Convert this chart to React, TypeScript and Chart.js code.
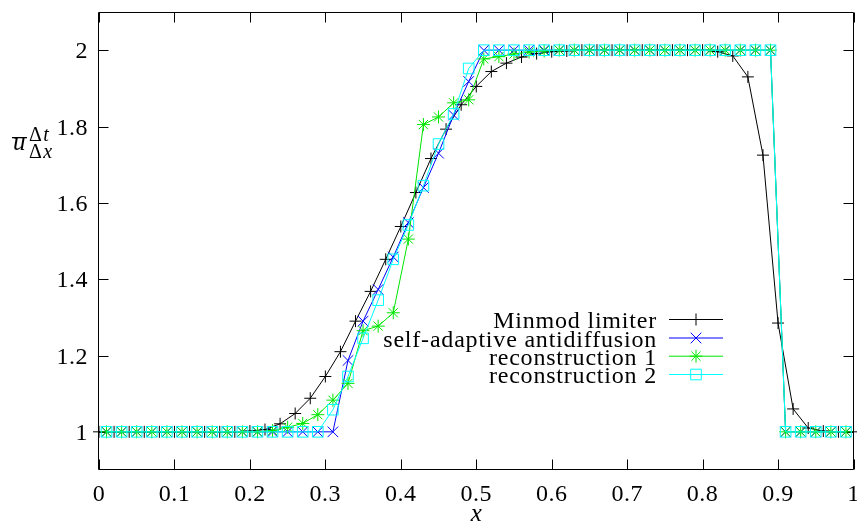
import React, { useEffect, useRef } from 'react';
import { Chart, registerables } from 'chart.js';

Chart.register(...registerables);

// cell centres (self-adaptive antidiffusion, reconstruction 1, reconstruction 2)
const xCells = [
  0.01, 0.03, 0.05, 0.07, 0.09, 0.11, 0.13, 0.15, 0.17, 0.19,
  0.21, 0.23, 0.25, 0.27, 0.29, 0.31, 0.33, 0.35, 0.37, 0.39,
  0.41, 0.43, 0.45, 0.47, 0.49, 0.51, 0.53, 0.55, 0.57, 0.59,
  0.61, 0.63, 0.65, 0.67, 0.69, 0.71, 0.73, 0.75, 0.77, 0.79,
  0.81, 0.83, 0.85, 0.87, 0.89, 0.91, 0.93, 0.95, 0.97, 0.99,
];

// grid nodes (Minmod limiter)
const xNodes = [
  0.0, 0.02, 0.04, 0.06, 0.08, 0.1, 0.12, 0.14, 0.16, 0.18,
  0.2, 0.22, 0.24, 0.26, 0.28, 0.3, 0.32, 0.34, 0.36, 0.38,
  0.4, 0.42, 0.44, 0.46, 0.48, 0.5, 0.52, 0.54, 0.56, 0.58,
  0.6, 0.62, 0.64, 0.66, 0.68, 0.7, 0.72, 0.74, 0.76, 0.78,
  0.8, 0.82, 0.84, 0.86, 0.88, 0.9, 0.92, 0.94, 0.96, 0.98, 1.0,
];

const minmodValues = [
  1, 1, 1, 1, 1, 1, 1, 1, 1, 1,
  1.002, 1.006, 1.021, 1.048, 1.088, 1.145, 1.21, 1.29, 1.368, 1.452,
  1.538, 1.627, 1.716, 1.793, 1.857, 1.905, 1.944, 1.966, 1.982, 1.991,
  1.996, 1.998, 2, 2, 2, 2, 2, 2, 2, 2,
  2, 1.996, 1.985, 1.93, 1.725, 1.285, 1.06, 1.01, 1.002, 1, 1,
];

const antidiffusionValues = [
  1, 1, 1, 1, 1, 1, 1, 1, 1, 1,
  1, 1, 1, 1, 1, 1, 1.187, 1.29, 1.373, 1.458,
  1.548, 1.64, 1.73, 1.83, 1.918, 2, 2, 2, 2, 2,
  2, 2, 2, 2, 2, 2, 2, 2, 2, 2,
  2, 2, 2, 2, 2, 1, 1, 1, 1, 1,
];

const reconstruction1Values = [
  1, 1, 1, 1, 1, 1, 1, 1, 1, 1,
  1, 1.003, 1.012, 1.022, 1.045, 1.083, 1.127, 1.265, 1.277, 1.312,
  1.505, 1.805, 1.825, 1.862, 1.87, 1.977, 1.983, 1.99, 1.995, 1.998,
  2, 2, 2, 2, 2, 2, 2, 2, 2, 2,
  2, 2, 2, 2, 2, 1, 1, 1, 1, 1,
];

const reconstruction2Values = [
  1, 1, 1, 1, 1, 1, 1, 1, 1, 1,
  1, 1, 1, 1, 1, 1.058, 1.145, 1.245, 1.345, 1.452,
  1.542, 1.645, 1.754, 1.833, 1.952, 2, 2, 2, 2, 2,
  2, 2, 2, 2, 2, 2, 2, 2, 2, 2,
  2, 2, 2, 2, 2, 1, 1, 1, 1, 1,
];

const seriesNames = [
  'Minmod limiter',
  'self-adaptive antidiffusion',
  'reconstruction 1',
  'reconstruction 2',
];

const xTicks = [0, 0.1, 0.2, 0.3, 0.4, 0.5, 0.6, 0.7, 0.8, 0.9, 1];
const xTickLabels = ['0', '0.1', '0.2', '0.3', '0.4', '0.5', '0.6', '0.7', '0.8', '0.9', '1'];
const yTicks = [1, 1.2, 1.4, 1.6, 1.8, 2];
const yTickLabels = ['1', '1.2', '1.4', '1.6', '1.8', '2'];

const SERIF = '"Liberation Serif", "Times New Roman", serif';

function zip(xs: number[], ys: number[]) {
  return xs.map((x, i) => ({ x, y: ys[i] }));
}

function drawMarker(ctx: CanvasRenderingContext2D, style: string, x: number, y: number, r: number) {
  const d = r * Math.SQRT1_2;
  ctx.beginPath();
  if (style === 'cross' || style === 'star') {
    ctx.moveTo(x - r, y);
    ctx.lineTo(x + r, y);
    ctx.moveTo(x, y - r);
    ctx.lineTo(x, y + r);
  }
  if (style === 'crossRot' || style === 'star') {
    ctx.moveTo(x - d, y - d);
    ctx.lineTo(x + d, y + d);
    ctx.moveTo(x - d, y + d);
    ctx.lineTo(x + d, y - d);
  }
  if (style === 'rect') {
    ctx.rect(x - d, y - d, 2 * d, 2 * d);
  }
  ctx.stroke();
}

const framePlugin = {
  id: 'gnuplotFrame',
  beforeDatasetsDraw(chart: any) {
    const { ctx, chartArea } = chart;
    const xs = chart.scales.x;
    const ys = chart.scales.y;
    const L = Math.round(chartArea.left) - 0.5;
    const R = Math.round(chartArea.right) - 0.5;
    const T = Math.round(chartArea.top) + 0.5;
    const B = Math.round(chartArea.bottom) - 0.5;
    const tl = 10;
    ctx.save();
    ctx.strokeStyle = '#000';
    ctx.lineWidth = 1;
    ctx.beginPath();
    ctx.rect(L, T, R - L, B - T);
    ctx.stroke();
    ctx.beginPath();
    xTicks.forEach((v) => {
      const px = Math.round(xs.getPixelForValue(v)) + 0.5;
      ctx.moveTo(px, B);
      ctx.lineTo(px, B - tl);
      ctx.moveTo(px, T);
      ctx.lineTo(px, T + tl);
    });
    yTicks.forEach((v) => {
      const py = Math.round(ys.getPixelForValue(v)) + 0.5;
      ctx.moveTo(L, py);
      ctx.lineTo(L + tl, py);
      ctx.moveTo(R, py);
      ctx.lineTo(R - tl, py);
    });
    ctx.stroke();

    ctx.fillStyle = '#000';
    ctx.font = `24px ${SERIF}`;
    (ctx as any).letterSpacing = '0.5px';
    ctx.textBaseline = 'alphabetic';
    ctx.textAlign = 'center';
    xTicks.forEach((v, i) => {
      ctx.fillText(xTickLabels[i], xs.getPixelForValue(v), 501);
    });
    ctx.textAlign = 'right';
    yTicks.forEach((v, i) => {
      ctx.fillText(yTickLabels[i], chartArea.left - 11, ys.getPixelForValue(v) + 8);
    });
    (ctx as any).letterSpacing = '0px';

    // x axis title
    ctx.textAlign = 'center';
    ctx.font = `italic 25px ${SERIF}`;
    ctx.fillText('x', (chartArea.left + chartArea.right) / 2, 521);

    // y axis title: overline u, superscript Δt, subscript Δx
    ctx.textAlign = 'left';
    ctx.font = `italic 25px ${SERIF}`;
    ctx.fillText('u', 13, 150);
    ctx.fillRect(12, 137, 15, 1.3);
    ctx.font = `20px ${SERIF}`;
    ctx.fillText('Δ', 29, 141);
    ctx.fillText('Δ', 29, 158);
    const dw = ctx.measureText('Δ').width;
    ctx.font = `italic 20px ${SERIF}`;
    ctx.fillText('t', 29 + dw + 1.5, 141);
    ctx.fillText('x', 29 + dw + 1.5, 158);
    ctx.restore();
  },
  afterDatasetsDraw(chart: any) {
    const { ctx } = chart;
    const rows = [319.5, 338, 356.2, 374.5];
    ctx.save();
    ctx.font = `24px ${SERIF}`;
    (ctx as any).letterSpacing = '0.8px';
    ctx.textAlign = 'right';
    ctx.textBaseline = 'alphabetic';
    ctx.fillStyle = '#000';
    chart.data.datasets.forEach((ds: any, i: number) => {
      const y = rows[i];
      ctx.fillText(seriesNames[i], 657, y + 8.5);
      ctx.strokeStyle = ds.borderColor;
      ctx.lineWidth = 1;
      ctx.beginPath();
      ctx.moveTo(669, y);
      ctx.lineTo(723, y);
      ctx.stroke();
      drawMarker(ctx, ds.pointStyle, 696, y, ds.pointRadius);
    });
    ctx.restore();
  },
};

export default function App() {
  const canvasRef = useRef<HTMLCanvasElement | null>(null);

  useEffect(() => {
    const canvas = canvasRef.current;
    if (!canvas) return;
    const chart = new Chart(canvas, {
      type: 'line',
      data: {
        datasets: [
          {
            label: seriesNames[0],
            data: zip(xNodes, minmodValues),
            borderColor: '#000000',
            backgroundColor: 'transparent',
            borderWidth: 1,
            pointStyle: 'cross',
            pointRadius: 6,
            pointBorderWidth: 1,
            pointBorderColor: '#000000',
            tension: 0,
            clip: false,
            order: 3,
          },
          {
            label: seriesNames[1],
            data: zip(xCells, antidiffusionValues),
            borderColor: '#0000ff',
            backgroundColor: 'transparent',
            borderWidth: 1,
            pointStyle: 'crossRot',
            pointRadius: 7.5,
            pointBorderWidth: 1,
            pointBorderColor: '#0000ff',
            tension: 0,
            clip: false,
            order: 2,
          },
          {
            label: seriesNames[2],
            data: zip(xCells, reconstruction1Values),
            borderColor: '#00e600',
            backgroundColor: 'transparent',
            borderWidth: 1,
            pointStyle: 'star',
            pointRadius: 6.5,
            pointBorderWidth: 1,
            pointBorderColor: '#00e600',
            tension: 0,
            clip: false,
            order: 1,
          },
          {
            label: seriesNames[3],
            data: zip(xCells, reconstruction2Values),
            borderColor: '#00ffff',
            backgroundColor: 'transparent',
            borderWidth: 1,
            pointStyle: 'rect',
            pointRadius: 7.5,
            pointBorderWidth: 1,
            pointBorderColor: '#00ffff',
            pointBackgroundColor: 'transparent',
            tension: 0,
            clip: false,
            order: 0,
          },
        ],
      } as any,
      options: {
        responsive: false,
        maintainAspectRatio: false,
        animation: false,
        devicePixelRatio: 1,
        events: [],
        layout: { padding: { left: 0, right: 3, top: 12, bottom: 0 } },
        plugins: { legend: { display: false }, tooltip: { enabled: false } },
        scales: {
          x: {
            type: 'linear',
            min: 0,
            max: 1,
            grid: { display: false, drawTicks: false },
            border: { display: false },
            ticks: { display: false },
            afterFit: (s: any) => {
              s.height = 55;
            },
          },
          y: {
            type: 'linear',
            min: 0.9,
            max: 2.1,
            grid: { display: false, drawTicks: false },
            border: { display: false },
            ticks: { display: false },
            afterFit: (s: any) => {
              s.width = 99;
            },
          },
        },
      } as any,
      plugins: [framePlugin],
    });
    return () => chart.destroy();
  }, []);

  return (
    <div
      style={{
        position: 'fixed',
        left: 0,
        top: 0,
        width: 857,
        height: 525,
        overflow: 'hidden',
        background: '#ffffff',
      }}
    >
      <canvas ref={canvasRef} width={862} height={525} style={{ display: 'block', width: 862, height: 525 }} />
    </div>
  );
}
